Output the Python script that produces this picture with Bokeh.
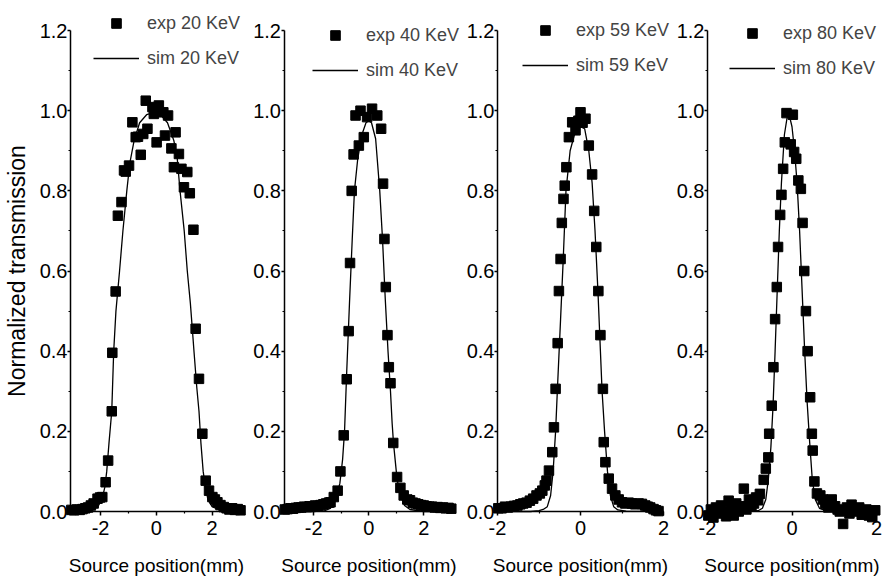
from bokeh.plotting import figure
from bokeh.layouts import row
from bokeh.models import Range1d, FixedTicker, PrintfTickFormatter, Legend, LegendItem
from bokeh.embed import file_html
from bokeh.resources import INLINE

FONT = "Liberation Sans"

# ---------------- data ----------------
y_ticks = [0.0, 0.2, 0.4, 0.6, 0.8, 1.0, 1.2]
y_minor = [0.1, 0.3, 0.5, 0.7, 0.9, 1.1]
x_ticks = [-2, 0, 2]
x_minor_wide = [-3, -1, 1, 3]
x_minor_narrow = [-1, 1]

exp20_x = [-3.05,-2.95,-2.85,-2.75,-2.65,-2.55,-2.45,-2.35,-2.25,-2.11,-2.02,-1.94,-1.82,-1.73,-1.60,-1.58,-1.46,-1.38,-1.25,-1.16,-1.10,-0.98,-0.86,-0.74,-0.66,-0.56,-0.47,-0.38,-0.32,-0.14,-0.09,0.01,0.09,0.25,0.31,0.42,0.54,0.63,0.69,0.81,0.90,0.99,1.11,1.20,1.33,1.41,1.53,1.65,1.77,1.89,2.01,2.10,2.19,2.30,2.42,2.52,2.62,2.72,2.82,2.92,3.02]
exp20_y = [0.004,0.003,0.005,0.004,0.006,0.008,0.010,0.015,0.020,0.032,0.035,0.036,0.073,0.127,0.250,0.396,0.549,0.738,0.772,0.851,0.848,0.863,0.971,0.934,0.935,0.890,0.942,1.025,0.955,1.009,0.992,0.921,1.013,0.996,0.938,0.988,0.906,0.859,0.946,0.892,0.855,0.809,0.847,0.794,0.703,0.456,0.331,0.194,0.077,0.052,0.036,0.030,0.023,0.016,0.011,0.008,0.005,0.008,0.004,0.006,0.003]
sim20_x = [-3.08,-2.6,-2.3,-2.1,-1.95,-1.85,-1.78,-1.7,-1.6,-1.53,-1.45,-1.32,-1.2,-1.06,-0.95,-0.8,-0.6,-0.35,-0.1,0.15,0.4,0.63,0.75,0.85,1.0,1.11,1.22,1.29,1.35,1.45,1.53,1.6,1.68,1.76,1.85,2.0,2.3,3.08]
sim20_y = [0.0,0.0,0.004,0.012,0.03,0.06,0.1,0.17,0.25,0.4,0.5,0.6,0.7,0.8,0.87,0.925,0.97,0.99,0.995,0.99,0.97,0.925,0.88,0.8,0.7,0.6,0.52,0.456,0.4,0.31,0.25,0.17,0.1,0.06,0.03,0.012,0.003,0.0]

exp40_x = [-3.05,-2.95,-2.85,-2.75,-2.65,-2.55,-2.45,-2.35,-2.25,-2.15,-2.05,-1.95,-1.85,-1.75,-1.65,-1.55,-1.45,-1.39,-1.27,-1.13,-1.03,-0.91,-0.80,-0.73,-0.68,-0.62,-0.55,-0.48,-0.36,-0.30,-0.18,-0.06,0.12,0.31,0.45,0.52,0.57,0.62,0.68,0.73,0.79,0.89,1.03,1.15,1.27,1.40,1.50,1.60,1.70,1.80,1.90,2.00,2.10,2.20,2.30,2.40,2.50,2.60,2.70,2.80,2.90,3.00]
exp40_y = [0.005,0.006,0.008,0.007,0.009,0.010,0.010,0.012,0.011,0.013,0.012,0.015,0.014,0.016,0.018,0.020,0.022,0.023,0.036,0.052,0.100,0.190,0.330,0.450,0.620,0.800,0.891,0.988,0.913,1.000,0.934,0.984,1.005,0.988,0.955,0.818,0.680,0.560,0.440,0.360,0.320,0.171,0.086,0.059,0.040,0.030,0.028,0.022,0.020,0.018,0.016,0.015,0.013,0.012,0.012,0.010,0.011,0.009,0.010,0.008,0.009,0.007]
sim40_x = [-3.08,-2.0,-1.6,-1.4,-1.2,-1.05,-0.95,-0.88,-0.8,-0.7,-0.6,-0.52,-0.4,-0.25,-0.1,0.0,0.1,0.25,0.4,0.5,0.6,0.7,0.79,0.85,0.9,1.03,1.15,1.3,1.5,2.0,3.08]
sim40_y = [0.0,0.0,0.002,0.008,0.03,0.07,0.13,0.2,0.35,0.52,0.68,0.8,0.88,0.94,0.97,0.975,0.97,0.93,0.8,0.68,0.53,0.4,0.3,0.22,0.17,0.08,0.04,0.015,0.005,0.0,0.0]

exp59_x = [-1.98,-1.90,-1.82,-1.75,-1.68,-1.60,-1.52,-1.45,-1.38,-1.30,-1.22,-1.14,-1.06,-0.98,-0.92,-0.86,-0.82,-0.76,-0.68,-0.64,-0.60,-0.55,-0.52,-0.48,-0.45,-0.41,-0.38,-0.34,-0.28,-0.20,-0.12,-0.05,0.00,0.05,0.12,0.20,0.28,0.33,0.38,0.43,0.48,0.54,0.56,0.60,0.68,0.76,0.84,0.92,1.00,1.08,1.16,1.24,1.32,1.40,1.48,1.56,1.62,1.68,1.76,1.82,1.88]
exp59_y = [0.008,0.008,0.012,0.010,0.012,0.014,0.015,0.018,0.020,0.022,0.027,0.032,0.040,0.045,0.052,0.065,0.077,0.102,0.148,0.210,0.306,0.420,0.550,0.630,0.720,0.780,0.813,0.859,0.934,0.971,0.951,0.975,0.996,0.970,0.980,0.913,0.841,0.750,0.660,0.550,0.440,0.306,0.173,0.123,0.082,0.057,0.040,0.030,0.023,0.020,0.022,0.020,0.018,0.020,0.019,0.015,0.012,0.010,0.006,0.003,0.001]
sim59_x = [-2.0,-1.2,-1.0,-0.9,-0.8,-0.72,-0.66,-0.6,-0.55,-0.48,-0.42,-0.35,-0.25,-0.12,0.0,0.1,0.2,0.28,0.35,0.42,0.48,0.52,0.58,0.65,0.72,0.8,0.9,1.1,2.0]
sim59_y = [0.0,0.0,0.002,0.005,0.012,0.04,0.1,0.2,0.32,0.48,0.62,0.8,0.9,0.95,0.96,0.955,0.9,0.82,0.7,0.55,0.4,0.3,0.2,0.1,0.04,0.012,0.004,0.001,0.0]

exp80_x = [-1.98,-1.92,-1.86,-1.80,-1.74,-1.68,-1.62,-1.56,-1.50,-1.44,-1.38,-1.32,-1.26,-1.20,-1.14,-1.08,-1.02,-0.96,-0.90,-0.85,-0.80,-0.76,-0.67,-0.62,-0.56,-0.54,-0.48,-0.44,-0.40,-0.36,-0.33,-0.28,-0.25,-0.21,-0.17,-0.13,-0.03,0.02,0.05,0.10,0.15,0.21,0.25,0.29,0.33,0.37,0.43,0.47,0.49,0.53,0.59,0.67,0.73,0.79,0.86,0.94,1.02,1.08,1.13,1.21,1.30,1.36,1.41,1.47,1.53,1.59,1.65,1.71,1.76,1.82,1.90,1.97]
exp80_y = [-0.010,0.005,-0.015,0.010,-0.005,0.015,0.000,-0.012,0.027,0.005,-0.010,0.020,0.000,0.013,0.057,0.005,0.030,0.012,0.020,0.035,0.028,0.044,0.079,0.107,0.135,0.194,0.264,0.360,0.480,0.560,0.660,0.740,0.790,0.855,0.921,0.994,0.916,0.990,0.897,0.880,0.826,0.805,0.720,0.600,0.500,0.400,0.285,0.194,0.152,0.075,0.045,0.040,0.030,0.019,0.010,0.030,0.013,0.005,0.000,-0.031,0.010,-0.005,0.017,0.008,0.000,0.010,-0.008,0.002,0.005,-0.010,-0.014,0.003]
sim80_x = [-2.0,-1.0,-0.8,-0.7,-0.62,-0.56,-0.5,-0.45,-0.4,-0.35,-0.3,-0.25,-0.18,-0.09,0.0,0.06,0.12,0.18,0.24,0.3,0.36,0.42,0.48,0.55,0.65,0.8,2.0]
sim80_y = [0.0,0.0,0.002,0.008,0.03,0.08,0.16,0.26,0.4,0.55,0.7,0.82,0.94,1.0,0.96,0.9,0.82,0.7,0.55,0.4,0.27,0.17,0.08,0.03,0.008,0.002,0.0]

energies = ["20", "40", "59", "80"]

# ---------------- layout (pixels) ----------------
H = 576          # figure height; frame fills whole figure
Y0_PX = 511      # pixel row of y = 0
Y_SCALE = 400.8  # pixels per unit of y
Y_LO = -(H - Y0_PX) / Y_SCALE
Y_HI = Y0_PX / Y_SCALE


def make_panel(ex, ey, sx, sy, energy, xmin, xmax, xminor, W, ax_left_px, ax_right_px,
               leg_xy, ylabel=None):
    scale = (ax_right_px - ax_left_px) / (xmax - xmin)
    x_lo = xmin - ax_left_px / scale
    x_hi = xmax + (W - ax_right_px) / scale
    p = figure(width=W, height=H, x_range=Range1d(x_lo, x_hi), y_range=Range1d(Y_LO, Y_HI),
               output_backend="svg", toolbar_location=None,
               min_border_left=0, min_border_right=0, min_border_top=0, min_border_bottom=0)
    p.grid.visible = False
    p.outline_line_color = None
    p.background_fill_color = "white"
    p.border_fill_color = "white"

    r_exp = p.scatter(ex, ey, marker="square", size=9.5, fill_color="black", line_color="black")
    r_sim = p.line(sx, sy, line_color="black", line_width=1.3)

    xa = p.xaxis[0]
    xa.fixed_location = 0
    xa.bounds = (xmin, xmax)
    xa.ticker = FixedTicker(ticks=x_ticks, minor_ticks=xminor)
    xa.formatter = PrintfTickFormatter(format="%d")
    ya = p.yaxis[0]
    ya.fixed_location = xmin
    ya.bounds = (0, 1.2)
    ya.ticker = FixedTicker(ticks=y_ticks, minor_ticks=y_minor)
    ya.formatter = PrintfTickFormatter(format="%.1f")
    for ax in (xa, ya):
        ax.axis_line_color = "black"
        ax.axis_line_width = 1.5
        ax.major_tick_line_width = 1.5
        ax.minor_tick_line_width = 1.2
        ax.major_tick_out = 4
        ax.major_tick_in = 0
        ax.minor_tick_out = 2
        ax.minor_tick_in = 0
        ax.major_label_text_font = FONT
        ax.major_label_text_font_size = "20px"
        ax.major_label_text_color = "black"
    ya.major_tick_out = 3
    ya.major_label_standoff = 0
    xa.major_label_standoff = 5

    xa.axis_label = "Source position(mm)"
    xa.axis_label_text_font = FONT
    xa.axis_label_text_font_size = "19px"
    xa.axis_label_text_font_style = "normal"
    xa.axis_label_text_color = "black"
    xa.axis_label_standoff = 17
    if ylabel:
        ya.axis_label = ylabel
        ya.axis_label_text_font = FONT
        ya.axis_label_text_font_size = "23px"
        ya.axis_label_text_font_style = "normal"
        ya.axis_label_text_color = "black"
        ya.axis_label_standoff = 7

    legend = Legend(items=[LegendItem(label="exp " + energy + " KeV", renderers=[r_exp]),
                           LegendItem(label="sim " + energy + " KeV", renderers=[r_sim])],
                    location=leg_xy, glyph_width=46, glyph_height=24, label_height=24,
                    label_standoff=8, spacing=11, padding=0, margin=0,
                    border_line_color=None, background_fill_alpha=0,
                    label_text_font=FONT, label_text_font_size="18px")
    p.add_layout(legend)
    return p


p1 = make_panel(exp20_x, exp20_y, sim20_x, sim20_y, energies[0], -3.08, 3.08, x_minor_wide,
                247, 70, 241.7, (93, 506), ylabel="Normalized transmission")
p2 = make_panel(exp40_x, exp40_y, sim40_x, sim40_y, energies[1], -3.08, 3.08, x_minor_wide,
                217, 36.5, 206, (65, 494))
p3 = make_panel(exp59_x, exp59_y, sim59_x, sim59_y, energies[2], -2, 2, x_minor_narrow,
                210, 33, 199, (58, 499))
p4 = make_panel(exp80_x, exp80_y, sim80_x, sim80_y, energies[3], -2, 2, x_minor_narrow,
                210, 33, 202, (55, 496))

layout = row(p1, p2, p3, p4)
open("out.html", "w").write(file_html(layout, INLINE))
